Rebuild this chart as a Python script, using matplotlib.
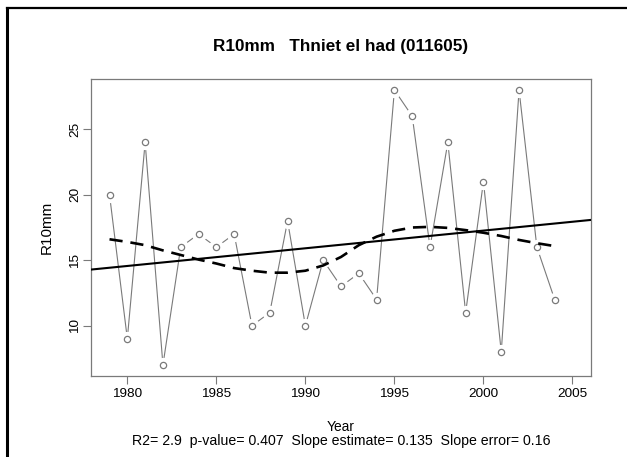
import matplotlib
matplotlib.use("Agg")
import matplotlib.pyplot as plt
import numpy as np
from matplotlib.lines import Line2D

plt.rcParams['font.family'] = ['Liberation Sans', 'DejaVu Sans']

# R10mm counts per year
years = np.arange(1979, 2005)
r10mm = [20, 9, 24, 7, 16, 17, 16, 17, 10, 11, 18, 10, 15,
         13, 14, 12, 28, 26, 16, 24, 11, 21, 8, 28, 16, 12]
# smoothed curve (dashed)
smooth = [16.6, 16.4, 16.15, 15.75, 15.4, 15.05, 14.75, 14.4, 14.2, 14.05,
          14.05, 14.2, 14.6, 15.25, 16.15, 16.8, 17.25, 17.5, 17.55, 17.47,
          17.3, 17.1, 16.85, 16.55, 16.3, 16.08]
stats_txt = "R2= 2.9  p-value= 0.407  Slope estimate= 0.135  Slope error= 0.16"

grey = '#7a7a7a'

fig = plt.figure(figsize=(6.27, 4.57), dpi=100)
ax = fig.add_axes([91/627, 1 - 376/457, 500/627, 297/457])

ax.plot(years, r10mm, color=grey, lw=0.8, zorder=1)
# white halo so the line stops short of the circles (R type="b")
ax.plot(years, r10mm, 'o', ms=10, mfc='white', mec='white', zorder=2)
ax.plot(years, r10mm, 'o', ms=4.5, mfc='white', mec=grey, mew=0.9, zorder=3)

# linear trend across the full axis
coef = np.polyfit(years, r10mm, 1)
xl = np.array([1977.96, 2006.04])
ax.plot(xl, np.polyval(coef, xl), color='black', lw=1.5, zorder=4)

ax.plot(years, smooth, color='black', lw=1.9, dashes=(5, 3), zorder=5)

ax.set_xlim(1977.96, 2006.04)
ax.set_ylim(6.16, 28.84)
ax.set_xticks([1980, 1985, 1990, 1995, 2000, 2005])
ax.set_yticks([10, 15, 20, 25])
for s in ax.spines.values():
    s.set_color(grey)
    s.set_linewidth(0.9)
ax.tick_params(length=5.5, width=0.8, color=grey, labelsize=9.7, pad=3)
ax.tick_params(axis='y', pad=1.5)
for lab in ax.get_yticklabels():
    lab.set_rotation(90)
    lab.set_va('center')

ax.set_title("R10mm   Thniet el had (011605)", fontsize=12.3, fontweight='bold', pad=20)
ax.set_ylabel("R10mm", fontsize=11, labelpad=11)
fig.text(341/627, 1 - 427/457, "Year", ha='center', va='center', fontsize=9.9)
fig.text(341/627, 1 - 441/457, stats_txt, ha='center', va='center', fontsize=10.2)

# outer frame lines of the original screenshot
fig.add_artist(Line2D([7/627, 1], [1 - 8/457, 1 - 8/457], color='black', lw=1.6,
                      transform=fig.transFigure))
fig.add_artist(Line2D([7/627, 7/627], [0, 1 - 8/457], color='black', lw=2.2,
                      transform=fig.transFigure))

fig.savefig("out.png", dpi=100)
